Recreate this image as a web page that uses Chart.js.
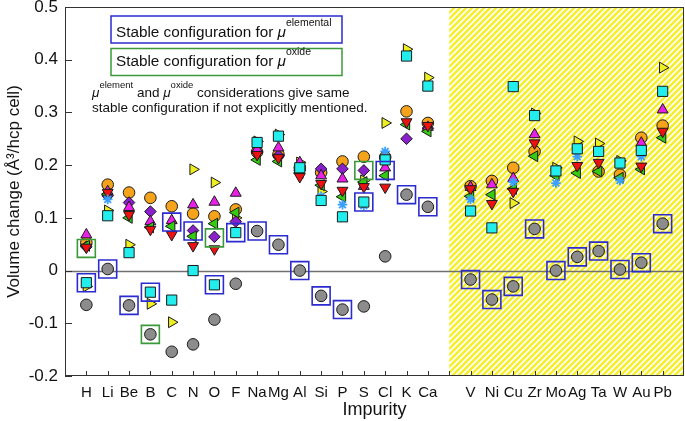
<!DOCTYPE html>
<html>
<head>
<meta charset="utf-8">
<script src="https://cdn.jsdelivr.net/npm/chart.js@4.4.1/dist/chart.umd.min.js"></script>
<style>
  html, body { margin: 0; padding: 0; background: #fff; }
</style>
</head>
<body>
<canvas id="chart" width="685" height="421"></canvas>
<script>
const lightImpurities = ['H','Li','Be','B','C','N','O','F','Na','Mg','Al','Si','P','S','Cl','K','Ca'];
const metalImpurities = ['V','Ni','Cu','Zr','Mo','Ag','Ta','W','Au','Pb'];
const impurities = [...lightImpurities, ...metalImpurities];

// volume change (A^3 / hcp cell) for each configuration, in impurity order; null = not shown
//                    H      Li     Be     B      C      N      O      F      Na     Mg     Al     Si     P      S      Cl     K      Ca     V      Ni     Cu     Zr     Mo     Ag     Ta     W      Au     Pb
const orangeCircle = [0.053, 0.163, 0.148, 0.138, 0.122, 0.108, 0.103, 0.116, 0.225, 0.22,  0.195, 0.186, 0.207, 0.216, 0.215, 0.302, 0.28,  0.16,  0.17,  0.195, 0.226, null,  null,  0.188, 0.182, 0.252, 0.275];
const magentaUp    = [0.068, 0.15,  0.12,  0.093, 0.095, 0.125, 0.13,  0.147, 0.23,  0.233, 0.205, 0.18,  0.174, 0.16,  0.195, null,  0.272, 0.158, 0.163, 0.175, 0.258, null,  null,  null,  null,  0.242, 0.305];
const redDown      = [0.044, 0.148, 0.106, 0.078, 0.068, 0.047, 0.041, null,  0.22,  0.214, 0.178, 0.165, 0.152, 0.159, 0.158, 0.282, 0.275, 0.155, 0.127, 0.15,  0.242, null,  0.199, 0.205, null,  0.198, 0.264];
const purpleDiamond= [0.045, 0.142, 0.129, 0.112, null,  0.076, 0.064, 0.093, 0.225, 0.218, 0.19,  0.193, 0.193, 0.19,  null,  0.25,  0.27,  null,  null,  null,  null,  null,  null,  null,  null,  null,  null];
const greenLeft    = [0.047, 0.145, 0.1,   0.082, 0.084, 0.065, 0.089, 0.11,  0.21,  0.207, 0.185, 0.162, 0.14,  0.168, 0.18,  0.277, 0.264, 0.141, 0.144, 0.155, 0.217, 0.18,  0.185, 0.188, 0.176, 0.192, 0.252];
const yellowRight  = [-0.03, 0.114, 0.049, -0.063,-0.098, 0.192, 0.167, 0.1,   0.245, 0.258, 0.205, 0.15,  null,  0.171, 0.28,  0.42,  0.366, null,  null,  0.128, 0.298, 0.195, 0.245, 0.241, 0.208, null,  0.385];
const cyanSquare   = [-0.023,0.104, 0.034, -0.041,-0.056, 0.0,  -0.027, 0.072, 0.243, 0.255, 0.195, 0.133, 0.102, 0.13,  0.21,  0.407, 0.35,  0.113, 0.081, 0.349, 0.294, 0.189, 0.231, 0.226, 0.204, 0.228, 0.34];
const blueStar     = [null,  0.135, null,  null,  null,  null,  null,  null,  null,  null,  null,  0.141, 0.125, 0.123, 0.226, null,  null,  0.135, null,  0.168, null,  0.166, 0.216, null,  0.171, 0.216, null];
const grayCircle   = [-0.065,0.003,-0.066,-0.121,-0.154,-0.14, -0.093,-0.025, 0.075, 0.049, 0.0,  -0.048,-0.074,-0.068, 0.027, 0.144, 0.121,-0.017,-0.055,-0.03,  0.079, 0.0,   0.026, 0.037, 0.002, 0.015, 0.089];
// stable configurations
const elementalBox = [-0.023,0.003,-0.066,-0.041, 0.092, 0.075,-0.027, 0.072, 0.075, 0.049, 0.0,  -0.048,-0.074, 0.13,  0.19,  0.144, 0.121,-0.017,-0.055,-0.03,  0.079, 0.0,   0.026, 0.037, 0.002, 0.015, 0.089];
const oxideBox     = [0.042, null,  null, -0.121, null,  null,  0.062, null,  null,  null,  null,  null,  null,  0.19,  null,  null,  null,  null,  null,  null,  null,  null,  null,  null,  null,  null,  null];

const yTicks = [-0.2, -0.1, 0, 0.1, 0.2, 0.3, 0.4, 0.5];
const xLabels = [' ', ...lightImpurities, '  ', ...metalImpurities, '   '];

const FONT = '"Liberation Sans", Arial, Helvetica, sans-serif';

function series(label, values, style) {
  return {
    label,
    data: impurities.map((name, i) => ({ x: name, y: values[i] })),
    showLine: false,
    pointBorderColor: '#1a1a1a',
    pointBorderWidth: 1,
    ...style
  };
}

function hatch(ctx) {
  const c = document.createElement('canvas');
  c.width = 6; c.height = 6;
  const g = c.getContext('2d');
  g.fillStyle = '#ffffff';
  g.fillRect(0, 0, 6, 6);
  g.strokeStyle = '#f6ef2c';
  g.lineWidth = 2.6;
  g.beginPath();
  g.moveTo(-3, 3); g.lineTo(3, -3);
  g.moveTo(0, 6); g.lineTo(6, 0);
  g.moveTo(3, 9); g.lineTo(9, 3);
  g.stroke();
  return ctx.createPattern(c, 'repeat');
}

function richText(ctx, x, y, parts) {
  parts.forEach(p => {
    ctx.font = (p.italic ? 'italic ' : '') + p.size + 'px ' + FONT;
    ctx.fillText(p.t, x, y - (p.rise || 0));
    x += ctx.measureText(p.t).width;
  });
}

const decorations = {
  id: 'decorations',
  beforeDatasetsDraw(chart) {
    const { ctx, chartArea: a, scales: { x, y } } = chart;
    ctx.save();
    const x0 = x.getPixelForValue(lightImpurities.length + 1);
    ctx.fillStyle = hatch(ctx);
    ctx.fillRect(x0, a.top, a.right - x0, a.bottom - a.top);
    const y0 = Math.round(y.getPixelForValue(0)) + 0.5;
    ctx.strokeStyle = '#707070';
    ctx.lineWidth = 1.4;
    ctx.beginPath();
    ctx.moveTo(a.left, y0);
    ctx.lineTo(a.right, y0);
    ctx.stroke();
    ctx.restore();
  },
  afterDraw(chart) {
    const { ctx, chartArea: a, scales: { x, y } } = chart;
    ctx.save();
    ctx.strokeStyle = '#333';
    ctx.lineWidth = 1;
    ctx.strokeRect(a.left + 0.5, a.top + 0.5, a.right - a.left - 1, a.bottom - a.top - 1);
    ctx.beginPath();
    for (let i = 1; i < xLabels.length - 1; i++) {
      const px = Math.round(x.getPixelForValue(i)) + 0.5;
      ctx.moveTo(px, a.bottom);
      ctx.lineTo(px, a.bottom - 5);
    }
    yTicks.forEach(v => {
      const py = Math.round(y.getPixelForValue(v)) + 0.5;
      ctx.moveTo(a.left, py);
      ctx.lineTo(a.left + 7, py);
    });
    ctx.stroke();

    // legend boxes
    ctx.lineWidth = 1.5;
    ctx.strokeStyle = '#2b2bd0';
    ctx.strokeRect(111, 16, 231, 27);
    ctx.strokeStyle = '#3a9a3a';
    ctx.strokeRect(111, 48.5, 231, 27);
    ctx.fillStyle = '#111';
    ctx.textBaseline = 'alphabetic';
    richText(ctx, 116, 37, [
      { t: 'Stable configuration for ', size: 15.3 },
      { t: 'μ', size: 15.3, italic: true },
      { t: 'elemental', size: 10.5, rise: 11 }
    ]);
    richText(ctx, 116, 66, [
      { t: 'Stable configuration for ', size: 15.3 },
      { t: 'μ', size: 15.3, italic: true },
      { t: 'oxide', size: 10.5, rise: 11 }
    ]);
    richText(ctx, 92, 97, [
      { t: 'μ', size: 13.5, italic: true },
      { t: 'element', size: 9.5, rise: 9 },
      { t: ' and ', size: 13.5 },
      { t: 'μ', size: 13.5, italic: true },
      { t: 'oxide', size: 9.5, rise: 9 },
      { t: ' considerations give same', size: 13.5 }
    ]);
    richText(ctx, 92, 112, [
      { t: 'stable configuration if not explicitly mentioned.', size: 13.5 }
    ]);
    ctx.restore();
  }
};

new Chart(document.getElementById('chart'), {
  type: 'scatter',
  data: {
    labels: xLabels,
    datasets: [
      series('elemental', elementalBox, { pointStyle: 'rect', pointRadius: 12.7, pointBackgroundColor: 'rgba(0,0,0,0)', pointBorderColor: '#2b2bd0', pointBorderWidth: 1.6 }),
      series('oxide', oxideBox, { pointStyle: 'rect', pointRadius: 12.7, pointBackgroundColor: 'rgba(0,0,0,0)', pointBorderColor: '#3a9a3a', pointBorderWidth: 1.6 }),
      series('cyan', cyanSquare, { pointStyle: 'rect', pointRadius: 7.2, pointBackgroundColor: '#22eeee' }),
      series('star', blueStar, { pointStyle: 'star', pointRadius: 4.8, pointBorderColor: '#3aa0ff', pointBorderWidth: 1.8 }),
      series('red', redDown, { pointStyle: 'triangle', pointRotation: 180, pointRadius: 6.3, pointBackgroundColor: '#ee1111' }),
      series('green', greenLeft, { pointStyle: 'triangle', pointRotation: 270, pointRadius: 6.3, pointBackgroundColor: '#33cc11' }),
      series('magenta', magentaUp, { pointStyle: 'triangle', pointRadius: 6.3, pointBackgroundColor: '#e820e8' }),
      series('purple', purpleDiamond, { pointStyle: 'rectRot', pointRadius: 5.8, pointBackgroundColor: '#8a1fcc' }),
      series('yellow', yellowRight, { pointStyle: 'triangle', pointRotation: 90, pointRadius: 6.3, pointBackgroundColor: '#eeee22' }),
      series('orange', orangeCircle, { pointStyle: 'circle', pointRadius: 5.8, pointBackgroundColor: '#f5a31a' }),
      series('gray', grayCircle, { pointStyle: 'circle', pointRadius: 5.8, pointBackgroundColor: '#8c8c8c' })
    ]
  },
  options: {
    responsive: false,
    animation: false,
    events: [],
    layout: { autoPadding: false, padding: { top: 7, right: 1, left: 0, bottom: 0 } },
    plugins: { legend: { display: false }, tooltip: { enabled: false } },
    scales: {
      x: {
        type: 'category',
        labels: xLabels,
        offset: false,
        grid: { display: false, drawTicks: false },
        border: { display: false },
        ticks: { autoSkip: false, maxRotation: 0, padding: 8, color: '#111', font: { family: FONT, size: 15 } },
        title: { display: true, text: 'Impurity', color: '#111', font: { family: FONT, size: 18 }, padding: { top: 0, bottom: 0 } },
        afterFit: s => { s.height = 45; s.paddingLeft = 0; s.paddingRight = 0; }
      },
      y: {
        min: -0.2,
        max: 0.5,
        grid: { display: false, drawTicks: false },
        border: { display: false },
        afterBuildTicks: s => { s.ticks = yTicks.map(v => ({ value: v })); },
        ticks: {
          padding: 7,
          color: '#111',
          font: { family: FONT, size: 17 },
          callback: v => (Math.round(v * 10) / 10).toString()
        },
        title: { display: true, text: 'Volume change (Å³/hcp cell)', color: '#111', font: { family: FONT, size: 17 }, padding: { top: 4, bottom: 0 } },
        afterFit: s => { s.width = 65; s.paddingTop = 0; s.paddingBottom = 0; }
      }
    }
  },
  plugins: [decorations]
});
</script>
</body>
</html>
